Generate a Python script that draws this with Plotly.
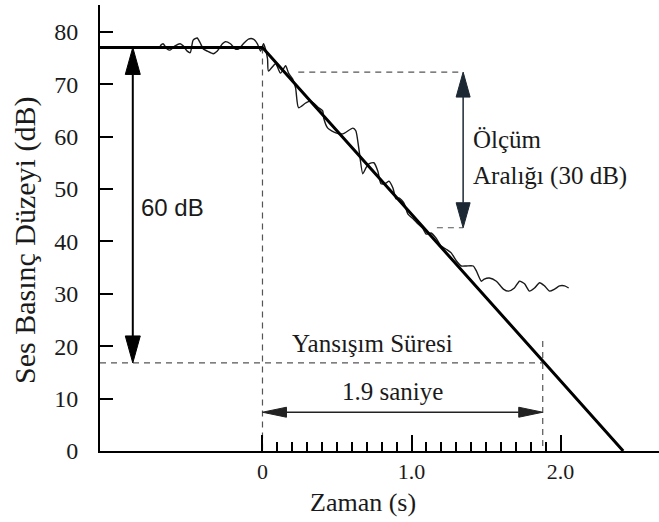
import plotly.graph_objects as go

# ---------------- data ----------------
noisy_t = [-0.687, -0.667, -0.640, -0.620, -0.586, -0.552, -0.532, -0.505, -0.485, -0.465,
           -0.438, -0.418, -0.397, -0.370, -0.330, -0.303, -0.269, -0.249, -0.215, -0.182,
           -0.162, -0.128, -0.094, -0.061, -0.034, -0.013, 0.007, 0.020,
           0.034, 0.040, 0.088, 0.121, 0.155, 0.175, 0.202, 0.222, 0.242, 0.290,
           0.323, 0.377, 0.404, 0.411, 0.438, 0.492, 0.539, 0.606, 0.626, 0.646,
           0.673, 0.694, 0.714, 0.747, 0.774, 0.795, 0.828, 0.848, 0.875, 0.896,
           0.916, 0.949, 0.976, 1.010, 1.044, 1.077, 1.098, 1.131, 1.165, 1.199,
           1.232, 1.266, 1.300, 1.333, 1.367, 1.414, 1.434, 1.468, 1.488, 1.522,
           1.569, 1.616, 1.650, 1.690, 1.724, 1.758, 1.791, 1.825, 1.859, 1.892,
           1.926, 1.960, 1.993, 2.027, 2.054]
noisy_db = [77.3, 77.7, 76.7, 76.5, 77.3, 77.7, 77.3, 76.3, 76.0, 78.4,
            78.8, 77.9, 76.7, 76.3, 75.8, 76.3, 77.7, 78.1, 77.7, 76.7,
            76.7, 77.7, 78.6, 78.6, 77.7, 76.3, 77.7, 76.7,
            74.8, 72.5, 73.9, 72.1, 73.5, 72.1, 71.0, 69.3, 65.5, 66.4,
            66.8, 65.5, 64.9, 63.5, 61.6, 60.7, 60.5, 61.6, 61.1, 57.8,
            52.9, 54.0, 54.8, 55.0, 53.4, 51.0, 51.1, 51.5, 50.2, 48.1,
            48.3, 47.3, 45.2, 44.3, 43.3, 42.4, 41.4, 41.6, 40.6, 39.1,
            38.5, 37.8, 36.3, 35.3, 35.3, 35.3, 34.4, 32.4, 32.8, 33.0,
            32.4, 30.9, 30.5, 31.1, 32.4, 31.9, 30.5, 31.1, 32.1, 31.5,
            30.5, 30.9, 31.5, 31.5, 31.1]

fit_t = [-1.09, 0.0, 2.42]
fit_db = [77.0, 77.0, 0.0]

y_tickvals = [0, 10, 20, 30, 40, 50, 60, 70, 80]
x_tickvals = [0, 1, 2]
x_ticktext = ["0", "1.0", "2.0"]
x_minor = [0.1, 0.2, 0.3, 0.4, 0.5, 0.6, 0.7, 0.8, 0.9,
           1.1, 1.2, 1.3, 1.4, 1.5, 1.6, 1.7, 1.8, 1.9]

level_start = 77.0          # dB
level_rt = 16.8             # dB (60 dB below)
range_top = 72.3            # dB
range_bottom = 42.6         # dB
rt_time = 1.88              # s
arrow60_t = -0.87
range_arrow_t = 1.346
rt_arrow_db = 7.4

# ---------------- layout geometry ----------------
W, H = 659, 522
ML, MR, MT, MB = 100, 0, 5, 71
XR = [-1.09, 2.66]
YR = [0, 85.1]
pxs = (W - ML - MR) / (XR[1] - XR[0])   # px per second
pyd = (H - MT - MB) / (YR[1] - YR[0])   # px per dB

SERIF = "Liberation Serif, Times New Roman, serif"
SANS = "Liberation Sans, Arial, sans-serif"
INK = "#1a1a1a"

fig = go.Figure()

def dashed(xs, ys):
    fig.add_trace(go.Scatter(x=xs, y=ys, mode="lines", hoverinfo="skip",
                             line=dict(color="#555555", width=1.2, dash="6px,5px")))

# dashed helper lines
dashed([0, 0], [level_start, 0])
dashed([XR[0], rt_time], [level_rt, level_rt])
dashed([rt_time, rt_time], [21, 0])
dashed([0.24, range_arrow_t], [range_top, range_top])
dashed([1.17, range_arrow_t], [range_bottom, range_bottom])

# noisy measured curve
fig.add_trace(go.Scatter(x=noisy_t, y=noisy_db, mode="lines", hoverinfo="skip",
                         line=dict(color=INK, width=1.4, shape="spline", smoothing=0.6)))
# fitted line
fig.add_trace(go.Scatter(x=fit_t, y=fit_db, mode="lines", hoverinfo="skip",
                         line=dict(color="black", width=3)))

def head(tx, ty, dx, dy, hl, hw, color):
    # dx,dy: unit direction in pixel space pointing toward tip
    bx = tx - dx * hl / pxs
    by = ty - dy * hl / pyd
    px_, py_ = -dy, dx
    xs = [tx, bx + px_ * hw / 2 / pxs, bx - px_ * hw / 2 / pxs, tx]
    ys = [ty, by + py_ * hw / 2 / pyd, by - py_ * hw / 2 / pyd, ty]
    fig.add_trace(go.Scatter(x=xs, y=ys, mode="lines", fill="toself", fillcolor=color,
                             hoverinfo="skip", line=dict(color=color, width=1)))
    return bx, by

def varrow(x, y0, y1, hl, hw, lw, color):
    b0 = head(x, y1, 0, 1, hl, hw, color)
    b1 = head(x, y0, 0, -1, hl, hw, color)
    fig.add_trace(go.Scatter(x=[x, x], y=[b1[1], b0[1]], mode="lines", hoverinfo="skip",
                             line=dict(color=color, width=lw)))

def harrow(y, x0, x1, hl, hw, lw, color):
    b0 = head(x1, y, 1, 0, hl, hw, color)
    b1 = head(x0, y, -1, 0, hl, hw, color)
    fig.add_trace(go.Scatter(x=[b1[0], b0[0]], y=[y, y], mode="lines", hoverinfo="skip",
                             line=dict(color=color, width=lw)))

varrow(arrow60_t, level_rt, level_start, 27, 15, 2, "black")
varrow(range_arrow_t, range_bottom, range_top, 25, 14, 1.5, "#1c2833")
harrow(rt_arrow_db, 0.0, rt_time, 24, 10, 1.5, "#222222")

ann = []
def txt(x, y, s, size, font=SERIF, xanchor="center", angle=0, ref="x"):
    ann.append(dict(x=x, y=y, xref="x" if ref == "x" else "paper",
                    yref="y" if ref == "x" else "paper", text=s, showarrow=False,
                    xanchor=xanchor, yanchor="middle", textangle=angle,
                    font=dict(family=font, size=size, color=INK)))

txt(-0.83, 46.4, "60 dB", 24, font=SANS, xanchor="left")
txt(1.40, 59.4, "Ölçüm", 25, xanchor="left")
txt(1.40, 52.5, "Aralığı (30 dB)", 25, xanchor="left")
txt(0.735, 20.6, "Yansışım Süresi", 25)
txt(0.87, 11.3, "1.9 saniye", 25)
txt((363 - ML) / (W - ML - MR), (H - MB - 503) / (H - MT - MB), "Zaman (s)", 26, ref="paper")
txt((25 - ML) / (W - ML - MR), (H - MB - 241) / (H - MT - MB), "Ses Basınç Düzeyi (dB)", 30,
    angle=-90, ref="paper")

fig.update_layout(
    width=W, height=H,
    margin=dict(l=ML, r=MR, t=MT, b=MB, pad=0),
    paper_bgcolor="white", plot_bgcolor="white",
    showlegend=False,
    annotations=ann,
    xaxis=dict(range=XR, showgrid=False, zeroline=False, showline=True,
               linecolor="black", linewidth=2,
               tickmode="array", tickvals=x_tickvals, ticktext=x_ticktext,
               ticks="inside", ticklen=16, tickwidth=1.5, tickcolor="black",
               ticklabelstandoff=0,
               tickfont=dict(family=SERIF, size=22, color=INK),
               minor=dict(tickmode="array", tickvals=x_minor, ticks="inside",
                          ticklen=9, tickwidth=1.5, tickcolor="black", showgrid=False)),
    yaxis=dict(range=YR, showgrid=False, zeroline=False, showline=True,
               linecolor="black", linewidth=2,
               tickmode="array", tickvals=y_tickvals,
               ticks="inside", ticklen=13, tickwidth=2, tickcolor="black",
               ticklabelstandoff=15,
               tickfont=dict(family=SERIF, size=24, color=INK)),
)

fig.write_html("out.html", config={"displayModeBar": False},
               post_script="document.body.style.margin='0px';")
